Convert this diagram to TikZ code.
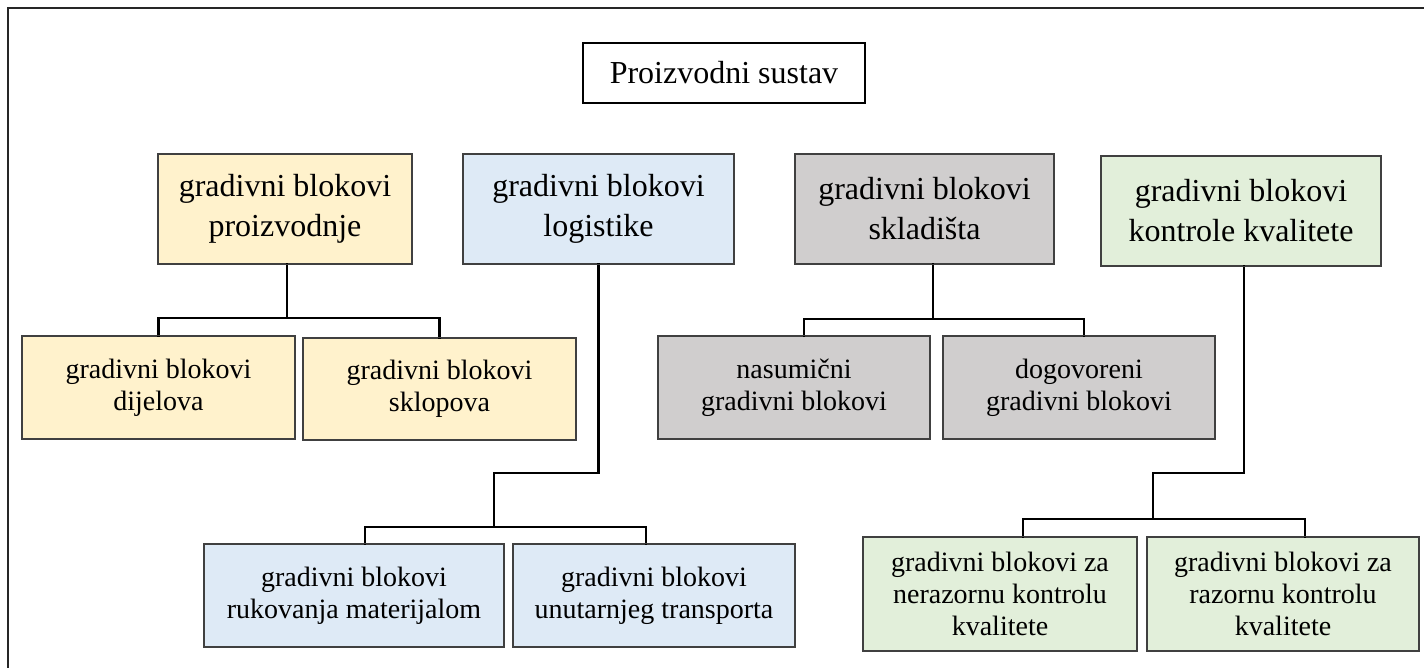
\documentclass[tikz,border=0pt]{standalone}
\usepackage{fontspec}
\setmainfont{Liberation Serif}
\definecolor{prodfill}{HTML}{FFF2CC}
\definecolor{logfill}{HTML}{DEEAF6}
\definecolor{storefill}{HTML}{D0CECE}
\definecolor{qcfill}{HTML}{E2EFDA}
\definecolor{edge}{HTML}{404040}
\tikzset{
  boxsize/.style 2 args={minimum width=#1, minimum height=#2},
  blk/.style={draw=edge, line width=1.3pt, align=center, inner sep=0pt},
  headblk/.style={blk, font=\fontsize{32}{40}\selectfont},
  subblk/.style={blk, font=\fontsize{28}{32}\selectfont},
  conn/.style={draw=black, line width=2.8pt, line cap=rect},
  frame/.style={draw=black!85, line width=1.6pt},
}
\begin{document}
\begin{tikzpicture}[x=1pt,y=-1pt]
\useasboundingbox (0,0) rectangle (1424,668);
\clip (0,0) rectangle (1424,668);
\fill[white] (0,0) rectangle (1424,668);
% outer frame (runs past the right and bottom edges)
\draw[frame] (8,8) rectangle (1460,700);

% root
\node[blk, draw=black, fill=white, boxsize={282pt}{60pt}, font=\fontsize{32}{40}\selectfont] (root) at (724,73) {Proizvodni sustav};

% first level
\node[headblk, fill=prodfill,  boxsize={254pt}{110pt}] (pr) at (285,209)   {gradivni blokovi\\proizvodnje};
\node[headblk, fill=logfill,   boxsize={271pt}{110pt}] (lg) at (598.5,209) {gradivni blokovi\\logistike};
\node[headblk, fill=storefill, boxsize={259pt}{110pt}] (sk) at (924.5,209) {gradivni blokovi\\skladišta};
\node[headblk, fill=qcfill,    boxsize={280pt}{110pt}] (kk) at (1241,211)  {gradivni blokovi\\kontrole kvalitete};

% second level
\node[subblk, fill=prodfill,  boxsize={273pt}{103pt}] (dj) at (158.5,387.5) {gradivni blokovi\\dijelova};
\node[subblk, fill=prodfill,  boxsize={273pt}{102pt}] (sp) at (439.5,389)   {gradivni blokovi\\sklopova};
\node[subblk, fill=storefill, boxsize={272pt}{103pt}] (ns) at (794,387.5)   {nasumični\\gradivni blokovi};
\node[subblk, fill=storefill, boxsize={272pt}{103pt}] (dg) at (1079,387.5)  {dogovoreni\\gradivni blokovi};
\node[subblk, fill=logfill,   boxsize={300pt}{103pt}] (rk) at (354,595.5)   {gradivni blokovi\\rukovanja materijalom};
\node[subblk, fill=logfill,   boxsize={282pt}{103pt}] (ut) at (654,595.5)   {gradivni blokovi\\unutarnjeg transporta};
\node[subblk, fill=qcfill,    boxsize={274pt}{114pt}] (nr) at (1000,594)    {gradivni blokovi za\\nerazornu kontrolu\\kvalitete};
\node[subblk, fill=qcfill,    boxsize={272pt}{114pt}] (rz) at (1283,594)    {gradivni blokovi za\\razornu kontrolu\\kvalitete};

% junction points of the tree connectors
\coordinate (j1) at (287,318);
\coordinate (j2) at (494,473);
\coordinate (k2) at (494,527);
\coordinate (j3) at (933,319);
\coordinate (j4) at (1153,473);
\coordinate (k4) at (1153,519);

% production
\draw[conn] ([xshift=2pt]pr.south) -- (j1);
\draw[conn] (dj.north) |- (j1) -| (sp.north);
% logistics
\draw[conn] (lg.south) |- (j2) -- (k2);
\draw[conn] ([xshift=11pt]rk.north) |- (k2) -| ([xshift=-8pt]ut.north);
% storage
\draw[conn] ([xshift=8.5pt]sk.south) -- (j3);
\draw[conn] ([xshift=10pt]ns.north) |- (j3) -| ([xshift=5pt]dg.north);
% quality control
\draw[conn] ([xshift=3pt]kk.south) |- (j4) -- (k4);
\draw[conn] ([xshift=23pt]nr.north) |- (k4) -| ([xshift=22pt]rz.north);

% box borders redrawn on top so connector ends sit under them
\foreach \n in {pr,lg,sk,kk,dj,sp,ns,dg,rk,ut,nr,rz}
  \draw[draw=edge, line width=1.3pt] (\n.north west) rectangle (\n.south east);
\end{tikzpicture}
\end{document}
